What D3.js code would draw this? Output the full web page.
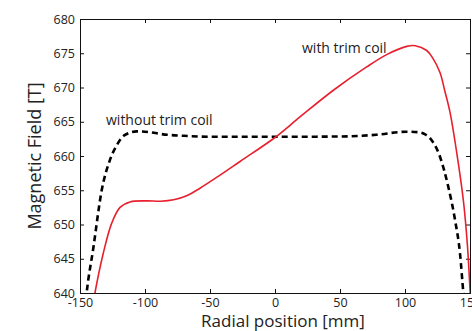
<!DOCTYPE html>
<html>
<head>
<meta charset="utf-8">
<script src="https://cdn.jsdelivr.net/npm/d3@7/dist/d3.min.js"></script>
<style>
  html, body { margin: 0; padding: 0; background: #fff; }
  svg { display: block; }
  text { font-family: "Open Sans", "Noto Sans", sans-serif; fill: #222; }
</style>
</head>
<body>
<svg id="chart" width="472" height="331"></svg>
<script>
// Radial field profile of the magnet, with and without the trim coil
const withTrimR = [-141, -138.5, -132.1, -125.6, -119.2, -111.5, -98.7, -88, -78, -68, -57.7, -42.3, -26.9, 0, 19.2, 44.9, 70.5, 85.9, 101.3, 108, 116.7, 121, 126.9, 130.5, 134.6, 139.7, 144.9, 148, 150, 151];
const withTrimB = [637, 640, 645.8, 650.2, 652.5, 653.3, 653.45, 653.4, 653.6, 654.2, 655.3, 657.2, 659.2, 662.7, 665.7, 669.6, 673.0, 674.8, 676.0, 676.1, 675.4, 674.4, 672.2, 669.6, 666.4, 660.6, 653.5, 647, 640.5, 637];

const withoutTrimR = [-147, -144.9, -139.8, -133.3, -127, -121, -116, -106.4, -100, -83, -70, -50, 0, 50, 78, 101, 111.5, 116, 119.2, 126.9, 133.3, 138.5, 142.3, 144.9, 147];
const withoutTrimB = [636, 640, 646.5, 655, 659.4, 661.8, 663, 663.6, 663.55, 663.1, 662.95, 662.8, 662.8, 662.85, 663.1, 663.55, 663.45, 663.1, 662.6, 659.9, 655.5, 650.65, 645.8, 640, 636];

const xTicks = [-150, -100, -50, 0, 50, 100, 150];
const yTicks = [640, 645, 650, 655, 660, 665, 670, 675, 680];

const svg = d3.select("#chart");
const m = { left: 80, top: 19, right: 470, bottom: 293 };

const x = d3.scaleLinear().domain([-150, 150]).range([m.left, m.right]);
const y = d3.scaleLinear().domain([640, 680]).range([m.bottom, m.top]);

svg.append("defs").append("clipPath").attr("id", "plot-clip")
  .append("rect")
  .attr("x", m.left).attr("y", m.top)
  .attr("width", m.right - m.left).attr("height", m.bottom - m.top);

const tickLen = 4;
const fmt = d => String(d); // plain hyphen for negatives

// Axes with inward ticks, mirrored on top and right
const bottomAxis = d3.axisBottom(x).tickValues(xTicks).tickSize(-tickLen).tickPadding(5).tickFormat(fmt);
const leftAxis = d3.axisLeft(y).tickValues(yTicks).tickSize(-tickLen).tickPadding(5).tickFormat(fmt);
const topAxis = d3.axisTop(x).tickValues(xTicks).tickSize(-tickLen).tickFormat("");
const rightAxis = d3.axisRight(y).tickValues(yTicks).tickSize(-tickLen).tickFormat("");

function styleAxis(g) {
  g.select(".domain").attr("stroke", "#111").attr("stroke-width", 1);
  g.selectAll(".tick line").attr("stroke", "#111");
  g.selectAll(".tick text").attr("font-size", 12.5).attr("fill", "#222")
    .attr("font-family", "'Open Sans', 'Noto Sans', sans-serif");
}

svg.append("g").attr("transform", `translate(0,${m.bottom})`).call(bottomAxis).call(styleAxis);
svg.append("g").attr("transform", `translate(${m.left},0)`).call(leftAxis).call(styleAxis);
svg.append("g").attr("transform", `translate(0,${m.top})`).call(topAxis).call(styleAxis);
svg.append("g").attr("transform", `translate(${m.right},0)`).call(rightAxis).call(styleAxis);

// Curves
const dashedLine = d3.line().x(d => x(d[0])).y(d => y(d[1])).curve(d3.curveMonotoneX);
const solidLine = d3.line().x(d => x(d[0])).y(d => y(d[1])).curve(d3.curveCatmullRom.alpha(0.5));

const plot = svg.append("g").attr("clip-path", "url(#plot-clip)");

plot.append("path")
  .datum(d3.zip(withoutTrimR, withoutTrimB))
  .attr("d", dashedLine)
  .attr("fill", "none")
  .attr("stroke", "#000")
  .attr("stroke-width", 2.6)
  .attr("stroke-dasharray", "6,4");

plot.append("path")
  .datum(d3.zip(withTrimR, withTrimB))
  .attr("d", solidLine)
  .attr("fill", "none")
  .attr("stroke", "#e8202e")
  .attr("stroke-width", 1.6);

// Curve annotations
svg.append("text").attr("x", 302).attr("y", 53).attr("font-size", 14).text("with trim coil");
svg.append("text").attr("x", 106).attr("y", 125).attr("font-size", 14).text("without trim coil");

// Axis titles
svg.append("text")
  .attr("x", 283).attr("y", 327)
  .attr("text-anchor", "middle").attr("font-size", 17)
  .text("Radial position [mm]");

svg.append("text")
  .attr("transform", `translate(41,${(m.top + m.bottom) / 2}) rotate(-90)`)
  .attr("text-anchor", "middle").attr("font-size", 18)
  .text("Magnetic Field [T]");
</script>
</body>
</html>
